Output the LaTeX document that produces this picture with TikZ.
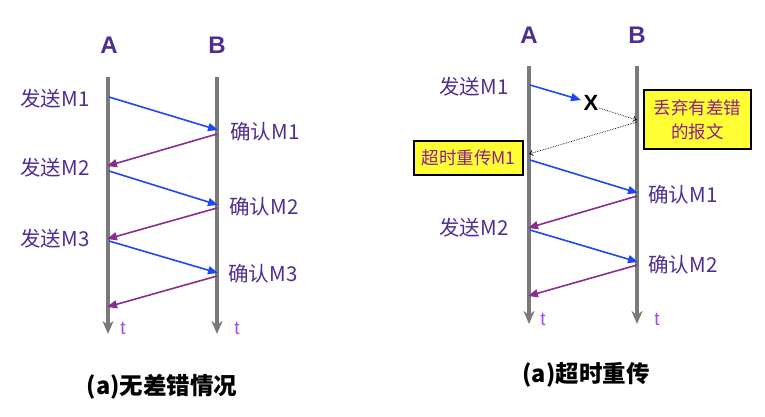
\documentclass[tikz,border=0pt]{standalone}
\usepackage{fontspec}
\setmainfont{Liberation Sans}
\newfontfamily\cjk{Noto Sans CJK SC}
\usetikzlibrary{arrows.meta}
\definecolor{lblc}{HTML}{4F2D92}
\definecolor{tc}{HTML}{9C4DF0}
\definecolor{bluec}{HTML}{1F48F5}
\definecolor{purc}{HTML}{8A2D8C}
\definecolor{linec}{HTML}{7A7A7A}
\definecolor{yel}{HTML}{FFFF33}
\definecolor{boxtxt}{HTML}{8E1E8A}
\tikzset{
  life/.style={draw=linec, line width=3.5pt, -{Stealth[length=13pt,width=11pt,inset=4pt]}},
  sendarr/.style={draw=bluec, line width=1.6pt, -{Triangle[length=10pt,width=8pt]}},
  ackarr/.style={draw=purc, line width=1.6pt, -{Triangle[length=10pt,width=8pt]}},
  dotarr/.style={draw=black, densely dotted, line width=0.7pt, -{To[length=4pt,width=6pt]}},
  head/.style={text=lblc, font=\fontsize{24}{28}\selectfont\bfseries, inner sep=0pt},
  lbl/.style={text=lblc, font=\cjk\fontsize{20.5}{24}\selectfont, inner sep=0pt},
  tlbl/.style={text=tc, font=\fontsize{19}{22}\selectfont, inner sep=0pt},
  ybox/.style={draw=black, line width=1.2pt, fill=yel, text=boxtxt, font=\cjk\fontsize{17.5}{24}\selectfont, align=center, inner sep=0pt},
  captxt/.style={text=black, font=\cjk\fontsize{23.5}{28}\selectfont\bfseries, inner sep=0pt}
}
\begin{document}
\begin{tikzpicture}[x=1pt,y=-1pt]
\useasboundingbox (0,0) rectangle (765,416);
% ---------- left diagram ----------
\node[head] (LA) at (109,45) {A};
\node[head] (LB) at (217,45) {B};
\coordinate (LAt) at (108,77);
\coordinate (LAb) at (108,334);
\coordinate (LBt) at (217,77);
\coordinate (LBb) at (217,334);
\draw[life] (LAt) -- (LAb);
\draw[life] (LBt) -- (LBb);
\node[tlbl] (Lt1) at (123,328) {t};
\node[tlbl] (Lt2) at (237,328) {t};

\coordinate (la1) at (109,97);  \coordinate (lb1) at (218,130);
\coordinate (lb1s) at (217,134); \coordinate (la2) at (107,166);
\coordinate (la2s) at (109,171); \coordinate (lb2) at (218,205);
\coordinate (lb2s) at (217,208); \coordinate (la3) at (107,239);
\coordinate (la3s) at (109,241); \coordinate (lb3) at (218,273);
\coordinate (lb3s) at (217,276); \coordinate (la4) at (107,307);
\draw[sendarr] (la1) -- (lb1);
\draw[ackarr] (lb1s) -- (la2);
\draw[sendarr] (la2s) -- (lb2);
\draw[ackarr] (lb2s) -- (la3);
\draw[sendarr] (la3s) -- (lb3);
\draw[ackarr] (lb3s) -- (la4);

\node[lbl] (ls1) at (55,99) {发送M1};
\node[lbl] (ls2) at (55,168) {发送M2};
\node[lbl] (ls3) at (55,239) {发送M3};
\node[lbl] (lc1) at (265,132) {确认M1};
\node[lbl] (lc2) at (264,207) {确认M2};
\node[lbl] (lc3) at (263,274) {确认M3};

\node[captxt] (cap1) at (162,387) {(a)无差错情况};

% ---------- right diagram ----------
\node[head] (RA) at (529,35) {A};
\node[head] (RB) at (637,35) {B};
\coordinate (RAt) at (529,66);
\coordinate (RAb) at (529,324);
\coordinate (RBt) at (637,66);
\coordinate (RBb) at (637,324);
\draw[life] (RAt) -- (RAb);
\draw[life] (RBt) -- (RBb);
\node[tlbl] (Rt1) at (543,319) {t};
\node[tlbl] (Rt2) at (657,319) {t};

\node[lbl] (rs1) at (474,87) {发送M1};
\node[font=\fontsize{22}{26}\selectfont\bfseries, inner sep=0pt] (X) at (591,103) {X};
\coordinate (ra1) at (530,85);
\coordinate (rx) at (581,100);
\draw[sendarr] (ra1) -- (rx);
\coordinate (rxs) at (599,108);
\coordinate (rb1) at (637,120);
\coordinate (rb1s) at (637,122);
\coordinate (ra2) at (529,154);
\draw[dotarr] (rxs) -- (rb1);
\draw[dotarr] (rb1s) -- (ra2);

\node[ybox, minimum width=107pt, minimum height=59pt] (drop) at (697.5,119.5) {丢弃有差错\\的报文};
\node[ybox, minimum width=109pt, minimum height=34pt] (retx) at (468.5,158) {超时重传M1};

\coordinate (ra2s) at (530,160); \coordinate (rb2) at (638,193);
\coordinate (rb2s) at (637,196); \coordinate (ra3) at (528,228);
\coordinate (ra3s) at (530,230); \coordinate (rb3) at (638,262);
\coordinate (rb3s) at (637,265); \coordinate (ra4) at (528,296);
\draw[sendarr] (ra2s) -- (rb2);
\draw[ackarr] (rb2s) -- (ra3);
\draw[sendarr] (ra3s) -- (rb3);
\draw[ackarr] (rb3s) -- (ra4);

\node[lbl] (rc1) at (683,195) {确认M1};
\node[lbl] (rs2) at (474,228) {发送M2};
\node[lbl] (rc2) at (683,265) {确认M2};

\node[captxt] (cap2) at (586,375) {(a)超时重传};
\end{tikzpicture}
\end{document}
